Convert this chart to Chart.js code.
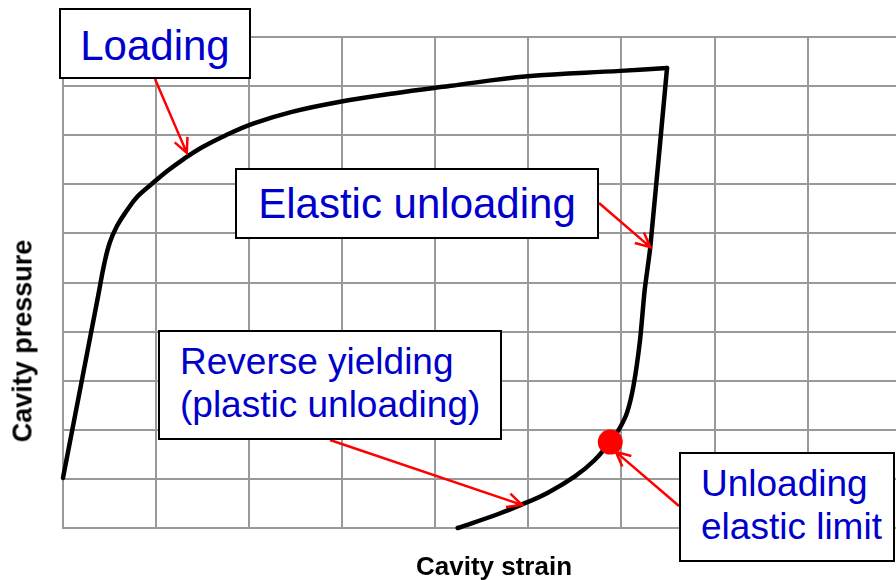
<!DOCTYPE html>
<html>
<head>
<meta charset="utf-8">
<script src="https://cdn.jsdelivr.net/npm/chart.js@4"></script>
<style>
  body { margin: 0; background: #fff; }
  #wrap { position: relative; width: 896px; height: 580px; overflow: hidden; font-family: "Liberation Sans", Arial, sans-serif; }
  .box { position: absolute; box-sizing: border-box; border: 2px solid #000; background: #fff; color: #0000cc; }
  .one { display: flex; align-items: center; justify-content: center; font-size: 42px; }
  .two { font-size: 37px; line-height: 43px; padding: 8px 0 0 20px; }
  .axt { position: absolute; font-weight: bold; font-size: 26px; color: #000; white-space: nowrap; }
</style>
</head>
<body>
<div id="wrap">
  <canvas id="cavityChart" width="896" height="580"></canvas>
  <div class="box one" style="left:59px;top:8px;width:192px;height:71px;padding-top:4px;">Loading</div>
  <div class="box one" style="left:235px;top:168px;width:364px;height:71px;">Elastic unloading</div>
  <div class="box two" style="left:158px;top:330px;width:344px;height:110px;">Reverse yielding<br>(plastic unloading)</div>
  <div class="box two" style="left:679px;top:452px;width:216px;height:110px;">Unloading<br>elastic limit</div>
  <div class="axt" style="left:23px;top:341px;font-size:27px;transform:translate(-50%,-50%) rotate(-90deg);">Cavity pressure</div>
  <div class="axt" style="left:494px;top:566px;transform:translate(-50%,-50%);">Cavity strain</div>
</div>
<script>
// curve (x = strain in grid units, y = pressure in grid units)
const loadingStrain   = [0, 0.38, 0.44, 0.50, 0.58, 0.68, 0.80, 0.95, 1.12, 1.30, 1.50, 1.75, 2.05, 2.45, 2.95, 3.55, 4.15, 4.99, 5.99, 6.49];
const loadingPressure = [1.02, 4.75, 5.35, 5.80, 6.15, 6.45, 6.75, 7.00, 7.27, 7.52, 7.76, 8.00, 8.24, 8.47, 8.67, 8.85, 9.00, 9.20, 9.31, 9.37];

const elasticStrain   = [6.49, 6.31, 6.25, 6.20, 6.13, 6.06, 5.98, 5.88];
const elasticPressure = [9.37, 5.72, 4.85, 3.83, 2.90, 2.35, 2.03, 1.75];

const reverseStrain   = [5.88, 5.71, 5.50, 5.21, 4.92, 4.67, 4.24];
const reversePressure = [1.75, 1.38, 1.05, 0.72, 0.47, 0.28, 0.00];

const limitStrain = [5.88];
const limitPressure = [1.75];

const xTicks = [0, 1, 2, 3, 4, 5, 6, 7, 8];
const yTicks = [0, 1, 2, 3, 4, 5, 6, 7, 8, 9, 10];

// where each callout arrow points on the curve
const tipStrain   = [1.33, 6.31, 4.93, 5.94];
const tipPressure = [7.64, 5.72, 0.47, 1.55];
// arrow tails at the label boxes (pixels)
const tailPx = [[155, 79], [599, 203], [330, 440], [679, 506]];

function toPoints(xs, ys) {
    return xs.map((x, i) => ({ x: x, y: ys[i] }));
}

const curveStyle = {
    showLine: true,
    borderColor: "#000",
    borderWidth: 4.5,
    borderCapStyle: "round",
    borderJoinStyle: "round",
    pointRadius: 0,
    tension: 0.4,
    clip: false
};

function drawArrow(ctx, x1, y1, x2, y2) {
    const ang = Math.atan2(y2 - y1, x2 - x1);
    const len = 16, spread = 0.45;
    ctx.beginPath();
    ctx.moveTo(x1, y1);
    ctx.lineTo(x2, y2);
    ctx.moveTo(x2 - len * Math.cos(ang - spread), y2 - len * Math.sin(ang - spread));
    ctx.lineTo(x2, y2);
    ctx.lineTo(x2 - len * Math.cos(ang + spread), y2 - len * Math.sin(ang + spread));
    ctx.stroke();
}

const calloutArrows = {
    id: "calloutArrows",
    afterDraw(chart) {
        const ctx = chart.ctx;
        const xs = chart.scales.x, ys = chart.scales.y;
        ctx.save();
        ctx.strokeStyle = "#ff0000";
        ctx.lineWidth = 2.5;
        tailPx.forEach((t, i) => {
            drawArrow(ctx, t[0], t[1], xs.getPixelForValue(tipStrain[i]), ys.getPixelForValue(tipPressure[i]));
        });
        ctx.restore();
    }
};

const gridStyle = { color: "#999999", lineWidth: 2, drawTicks: false };

new Chart(document.getElementById("cavityChart"), {
    type: "scatter",
    data: {
        datasets: [
            {
                data: toPoints(limitStrain, limitPressure),
                pointRadius: 12.5,
                pointBackgroundColor: "#ff0000",
                pointBorderWidth: 0,
                clip: false
            },
            Object.assign({ data: toPoints(loadingStrain, loadingPressure) }, curveStyle),
            Object.assign({ data: toPoints(elasticStrain, elasticPressure) }, curveStyle, { tension: 0.2 }),
            Object.assign({ data: toPoints(reverseStrain, reversePressure) }, curveStyle)
        ]
    },
    options: {
        responsive: false,
        animation: false,
        layout: { autoPadding: false, padding: { left: 63, top: 37, right: 0, bottom: 52 } },
        plugins: { legend: { display: false }, tooltip: { enabled: false } },
        scales: {
            x: {
                type: "linear",
                min: 0,
                max: 8.95,
                afterBuildTicks: (s) => { s.ticks = xTicks.map(v => ({ value: v })); },
                ticks: { display: false },
                grid: gridStyle,
                border: { color: "#999999", width: 2 }
            },
            y: {
                type: "linear",
                min: 0,
                max: 10,
                afterBuildTicks: (s) => { s.ticks = yTicks.map(v => ({ value: v })); },
                ticks: { display: false },
                grid: gridStyle,
                border: { color: "#999999", width: 2 }
            }
        }
    },
    plugins: [calloutArrows]
});
</script>
</body>
</html>
